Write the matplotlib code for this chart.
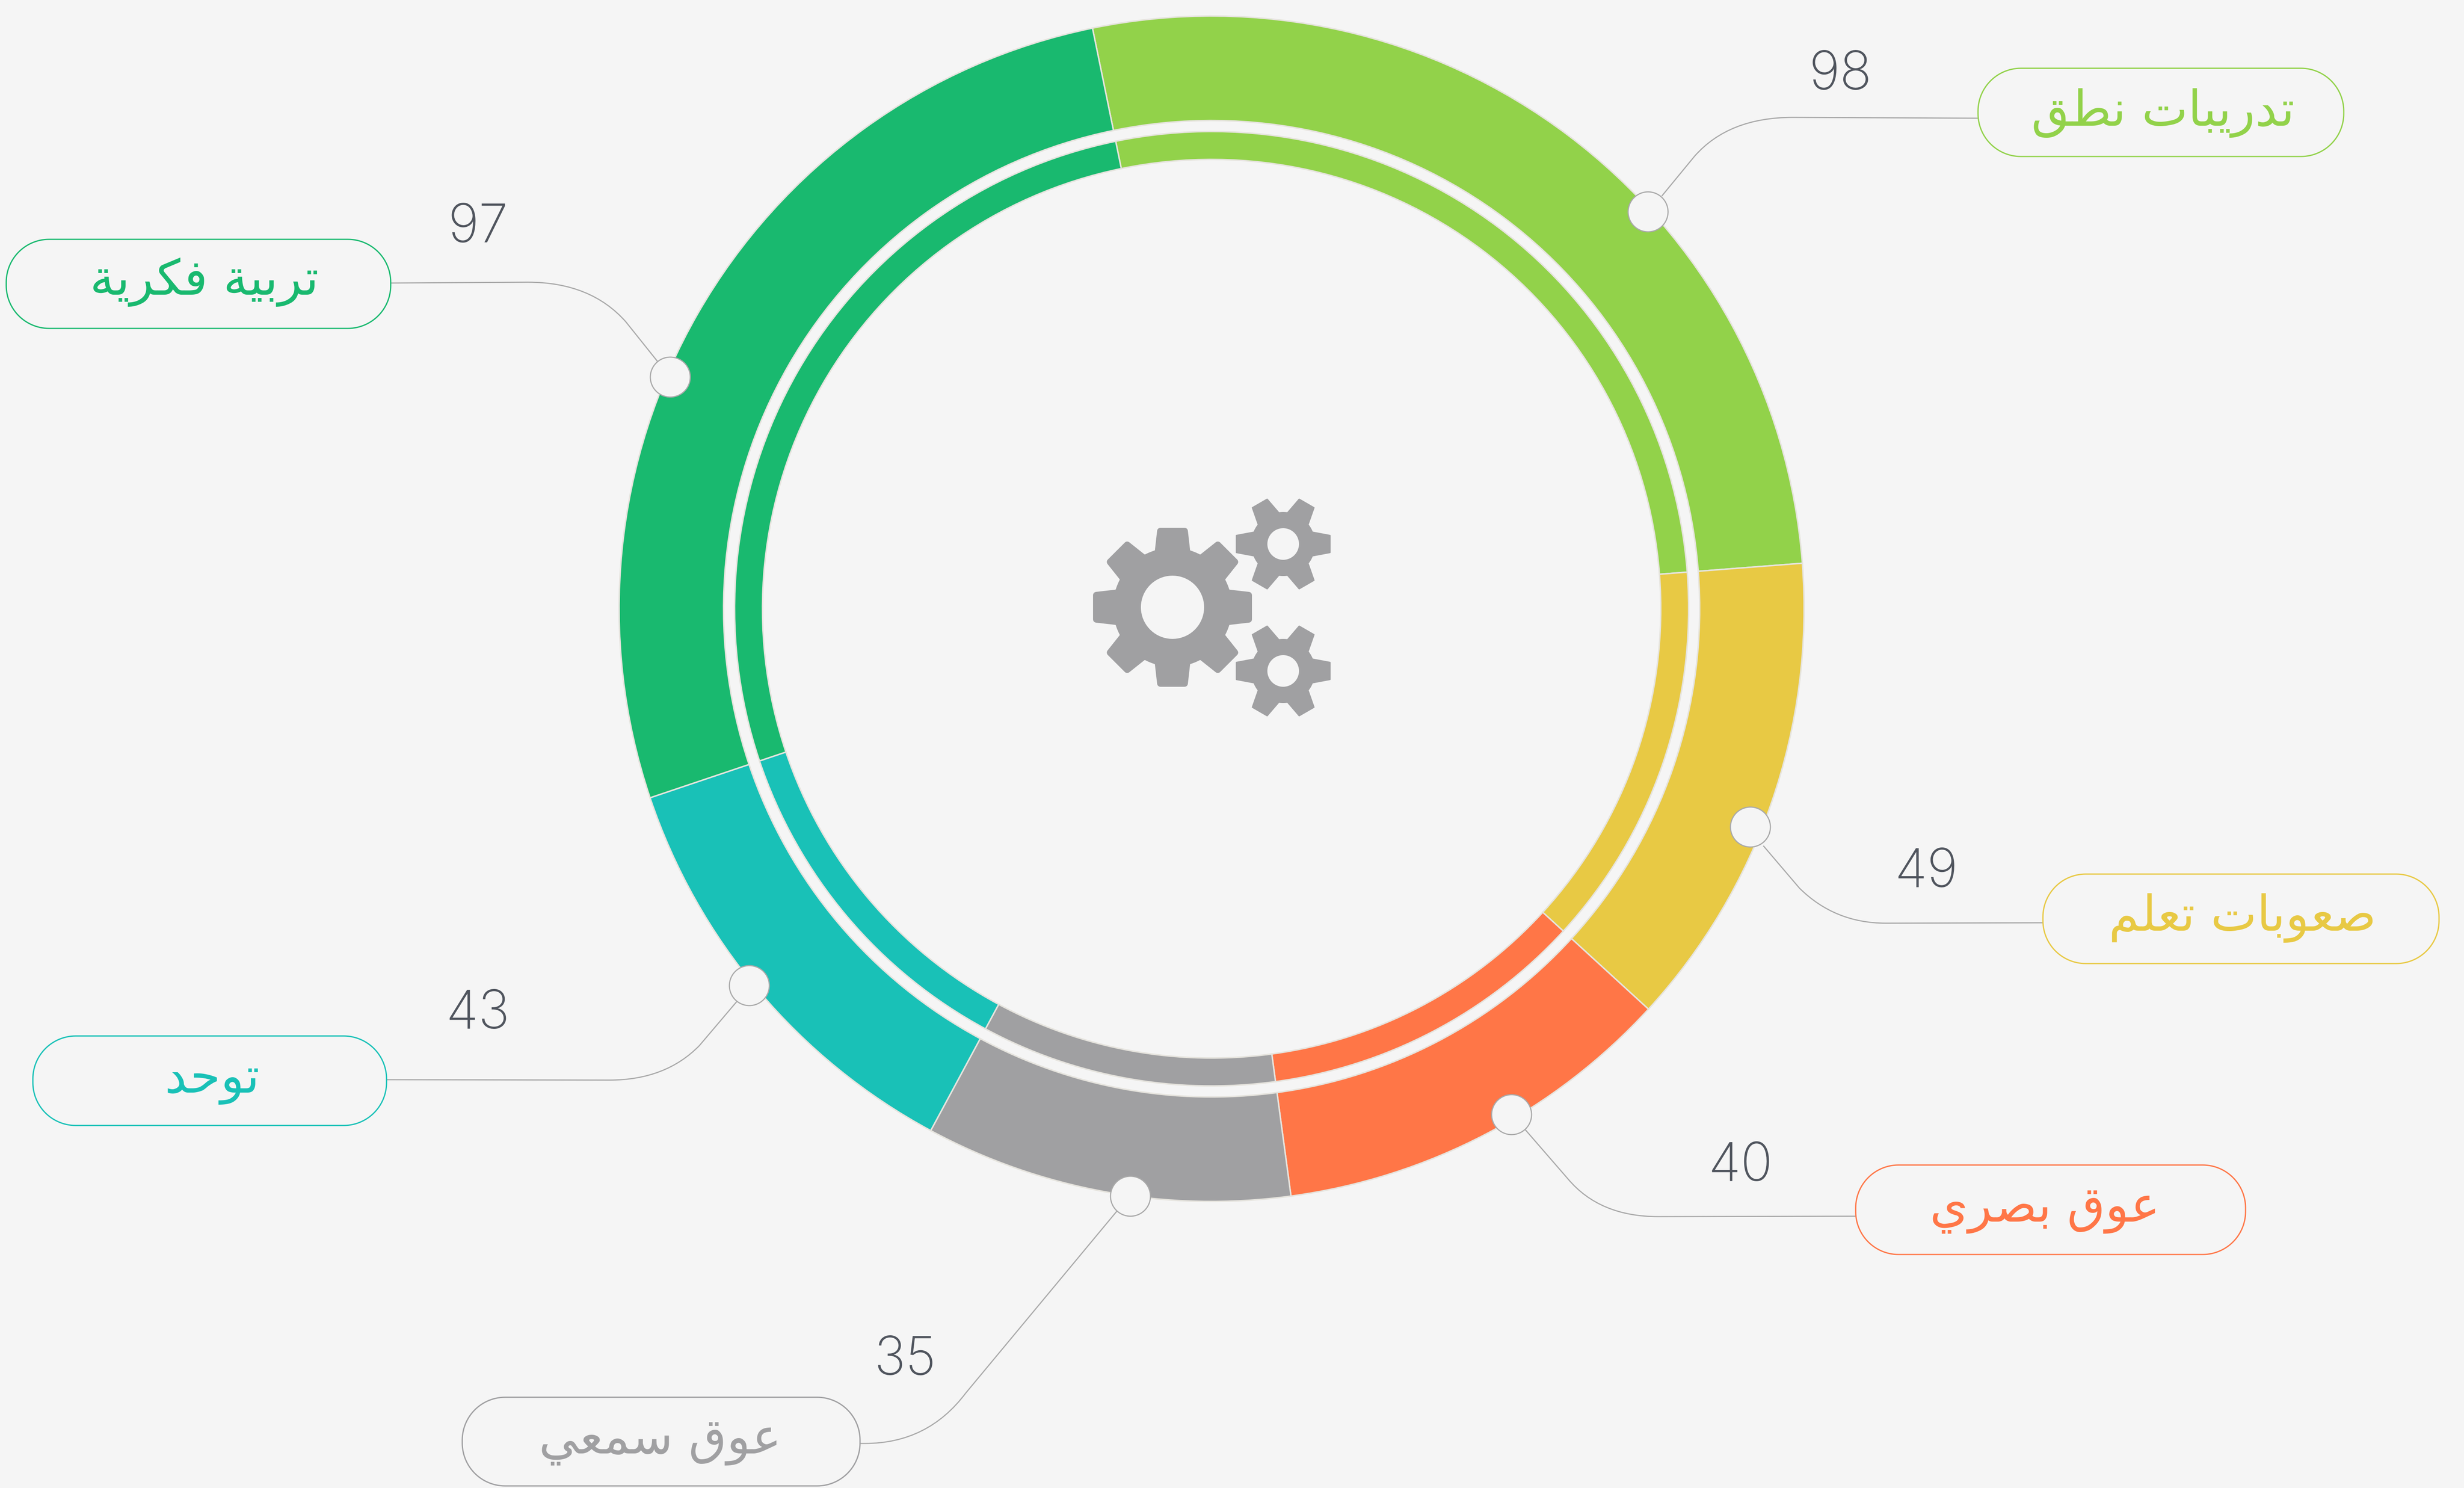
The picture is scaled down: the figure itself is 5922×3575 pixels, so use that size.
import numpy as np
import matplotlib
matplotlib.use('Agg')
import matplotlib.pyplot as plt
from matplotlib.patches import Circle, PathPatch
from matplotlib.path import Path

# clockwise from the segment that starts just left of 12 o'clock
labels = ['تدريبات نطق', 'صعوبات تعلم', 'عوق بصري', 'عوق سمعي', 'توحد', 'تربية فكرية']
values = [98, 49, 40, 35, 43, 97]
# arc sizes as drawn in the picture, degrees (49 is drawn a bit short)
sweeps = [97.2, 46.9, 39.8, 36.0, 43.1, 97.0]
colors = ['#92d24a', '#e8c944', '#ff7647', '#a0a0a2', '#19c1b7', '#19b96f']

BG = '#f5f5f5'
W, H = 5922, 3575
CX, CY = 2912, 1462.5

# x0, x1, y0, y1 of every pill
pills = [(4754, 5633, 164, 376), (4910, 5862, 2100, 2315), (4460, 5397, 2799, 3014),
         (1111, 2067, 3357, 3570), (79, 929, 2489, 2704), (15, 939, 575, 789)]
text_pos = [(5198, 302), (5390, 2236), (4915, 2935), (1586, 3492), (510, 2625), (491, 708)]
num_pos = [(4423, 215), (4630, 2131), (4183, 2837), (2175, 3303), (1148, 2471), (1149, 582)]
dots = [(3961, 509), (4207, 1987), (3633, 2678), (2717, 2874), (1801, 2368), (1611, 906)]
# leader: pill end, end of straight run, corner, start of diagonal, dot end
leaders = [
    [(4754, 284), (4309, 282), (4155, 282), (4073, 375), (3994, 471)],
    [(4910, 2217), (4532, 2218), (4410, 2218), (4325, 2134), (4238, 2032)],
    [(4460, 2922), (3985, 2923), (3845, 2923), (3769, 2833), (3664, 2712)],
    [(2067, 3468), (2079, 3468), (2230, 3468), (2321, 3347), (2685, 2909)],
    [(929, 2594), (1465, 2595), (1600, 2595), (1681, 2512), (1771, 2406)],
    [(939, 680), (1269, 678), (1420, 678), (1504, 773), (1580, 868)],
]


ARABIC = {
    'ا': (0xFE8D, 0xFE8E), 'ب': (0xFE8F, 0xFE90, 0xFE91, 0xFE92), 'ة': (0xFE93, 0xFE94),
    'ت': (0xFE95, 0xFE96, 0xFE97, 0xFE98), 'ح': (0xFEA1, 0xFEA2, 0xFEA3, 0xFEA4),
    'د': (0xFEA9, 0xFEAA), 'ر': (0xFEAD, 0xFEAE), 'س': (0xFEB1, 0xFEB2, 0xFEB3, 0xFEB4),
    'ص': (0xFEB9, 0xFEBA, 0xFEBB, 0xFEBC), 'ط': (0xFEC1, 0xFEC2, 0xFEC3, 0xFEC4),
    'ع': (0xFEC9, 0xFECA, 0xFECB, 0xFECC), 'ف': (0xFED1, 0xFED2, 0xFED3, 0xFED4),
    'ق': (0xFED5, 0xFED6, 0xFED7, 0xFED8), 'ك': (0xFED9, 0xFEDA, 0xFEDB, 0xFEDC),
    'ل': (0xFEDD, 0xFEDE, 0xFEDF, 0xFEE0), 'م': (0xFEE1, 0xFEE2, 0xFEE3, 0xFEE4),
    'ن': (0xFEE5, 0xFEE6, 0xFEE7, 0xFEE8), 'و': (0xFEED, 0xFEEE),
    'ي': (0xFEF1, 0xFEF2, 0xFEF3, 0xFEF4),
}


def shape(word):
    # matplotlib does no arabic shaping, so pick the joined forms by hand and reverse
    out = []
    for i, ch in enumerate(word):
        if ch not in ARABIC:
            out.append(ch)
            continue
        forms = ARABIC[ch]
        prev = word[i - 1] if i > 0 else ' '
        nxt = word[i + 1] if i < len(word) - 1 else ' '
        joins_prev = prev in ARABIC and len(ARABIC[prev]) == 4
        joins_next = nxt in ARABIC and len(forms) == 4
        if joins_prev and joins_next:
            out.append(chr(forms[3]))
        elif joins_next:
            out.append(chr(forms[2]))
        elif joins_prev:
            out.append(chr(forms[1]))
        else:
            out.append(chr(forms[0]))
    return ''.join(out[::-1])


def pill_path(x0, x1, y0, y1, r=103):
    # FancyBboxPatch corners are too square here, real arcs look right
    pts = []
    for cx, cy, a0 in [(x1 - r, y0 + r, -90), (x1 - r, y1 - r, 0), (x0 + r, y1 - r, 90), (x0 + r, y0 + r, 180)]:
        t = np.radians(np.linspace(a0, a0 + 90, 30))
        pts.extend(zip(cx + r * np.cos(t), cy + r * np.sin(t)))
    pts.append(pts[0])
    return Path(pts, closed=True)


def gear(ax, cx, cy, teeth, r_tip, r_root, half_tip, half_base, r_hole, rnd):
    # outline is stroked by rnd for the round corners, so everything is drawn rnd smaller
    r_root = r_root - rnd
    half_base = half_base - rnd
    pts = []
    step = 2 * np.pi / teeth
    base = np.sqrt(r_root ** 2 - half_base ** 2)
    gap = np.arctan2(half_base, base)
    for k in range(teeth):
        a = k * step
        c, s = np.cos(a), np.sin(a)
        for x, y in [(base, -half_base), (r_tip - rnd, -half_tip + rnd),
                     (r_tip - rnd, half_tip - rnd), (base, half_base)]:
            pts.append((cx + x * c - y * s, cy + x * s + y * c))
        for t in np.linspace(a + gap, a + step - gap, 8)[1:-1]:
            pts.append((cx + r_root * np.cos(t), cy + r_root * np.sin(t)))
    pts.append(pts[0])
    t = np.linspace(2 * np.pi, 0, 73)
    hole = np.column_stack([cx + (r_hole + rnd) * np.cos(t), cy + (r_hole + rnd) * np.sin(t)])
    path = Path.make_compound_path(Path(pts, closed=True), Path(hole, closed=True))
    ax.add_patch(PathPatch(path, fc='#a0a0a2', ec='#a0a0a2', lw=2 * rnd * 0.72, joinstyle='round', zorder=4))


fig = plt.figure(figsize=(W / 100, H / 100), dpi=100, facecolor=BG)
ax = fig.add_axes([0, 0, 1, 1])

# y axis runs downward, so counterclock=True goes clockwise on screen
edge = dict(edgecolor='#e6e4de', linewidth=2.5)
ax.pie(sweeps, colors=colors, radius=1424, center=(CX, CY), startangle=-101.6,
       counterclock=True, frame=True, normalize=True, wedgeprops=dict(width=1424 - 1173, **edge))
ax.pie(sweeps, colors=colors, radius=1146.5, center=(CX, CY), startangle=-101.6,
       counterclock=True, frame=True, normalize=True, wedgeprops=dict(width=1146.5 - 1079.5, **edge))
ax.set_xlim(0, W)
ax.set_ylim(H, 0)
ax.axis('off')

for i in range(len(labels)):
    x0, x1, y0, y1 = pills[i]
    ax.add_patch(PathPatch(pill_path(x0, x1, y0, y1), fc=BG, ec=colors[i], lw=2.2, zorder=3))
    ax.text(text_pos[i][0], text_pos[i][1], shape(labels[i]), color=colors[i], fontsize=85,
            family='DejaVu Sans', ha='center', va='baseline', zorder=5)
    ax.text(num_pos[i][0], num_pos[i][1], str(values[i]), color='#50555e', fontsize=92,
            family='Inter', fontweight='light', ha='center', va='baseline', zorder=5)

    p = leaders[i]
    path = Path(p, [Path.MOVETO, Path.LINETO, Path.CURVE3, Path.CURVE3, Path.LINETO])
    ax.add_patch(PathPatch(path, fc='none', ec='#a9a9a9', lw=2.0, zorder=2))
    ax.add_patch(Circle(dots[i], 48, fc=BG, ec='#a9a9a9', lw=2.0, zorder=3))

gear(ax, 2818, 1459, 8, 191, 143, 37, 43, 76, 8)
gear(ax, 3084, 1307, 6, 114, 77, 22, 30, 38, 1.5)
gear(ax, 3084, 1612, 6, 114, 77, 22, 30, 38, 1.5)

fig.savefig('out.png', dpi=100, facecolor=BG)
